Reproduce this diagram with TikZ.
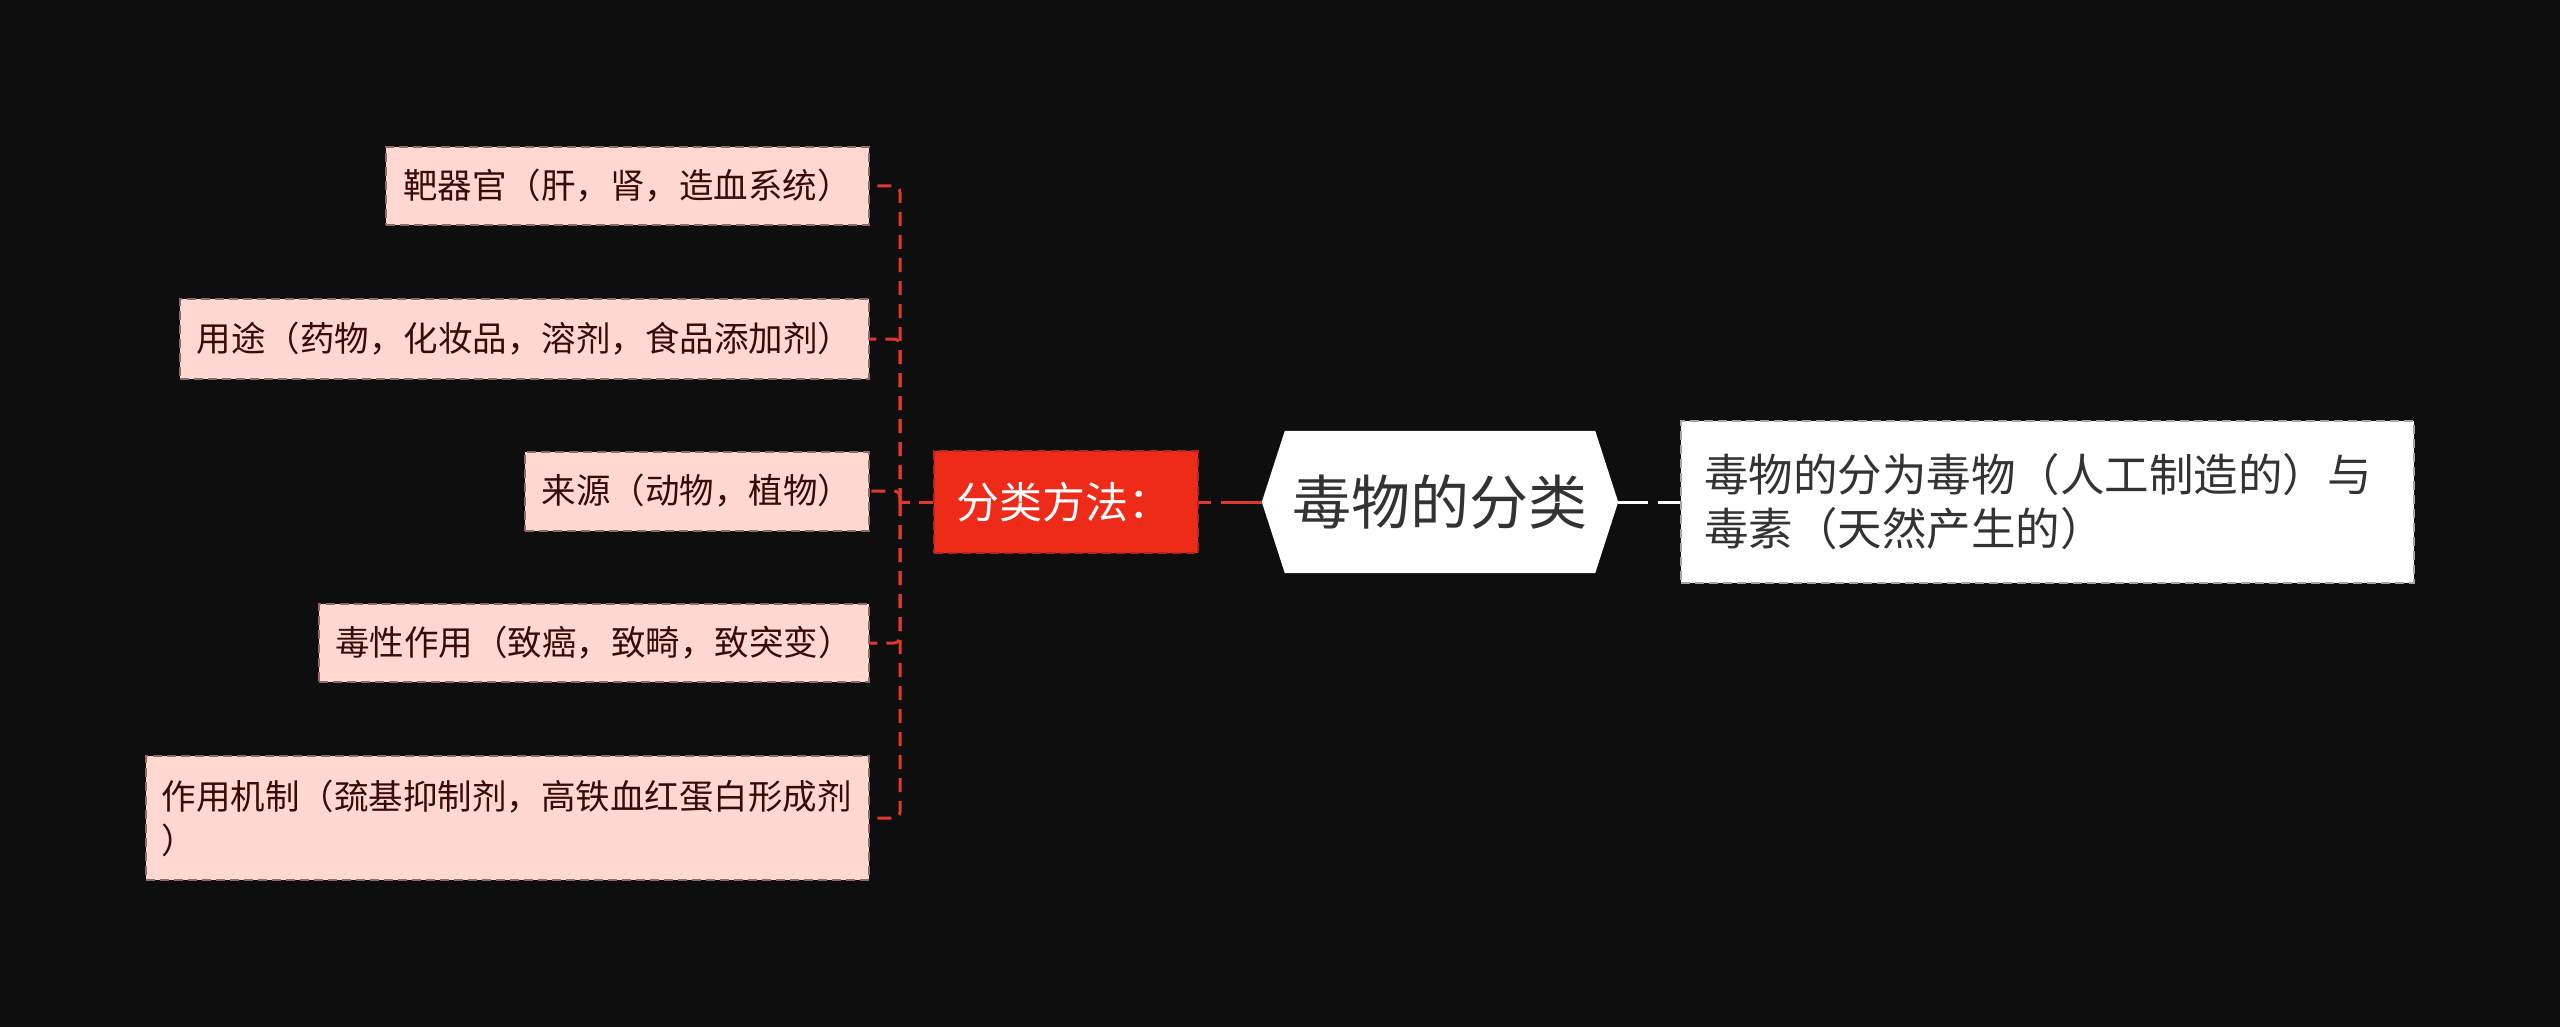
\documentclass[tikz,border=0pt]{standalone}
\usepackage{fontspec}
\newfontfamily\cjk{Noto Sans CJK SC}
\usetikzlibrary{calc}
\definecolor{bg}{HTML}{0E0E0E}
\definecolor{leaffill}{HTML}{FFD8D2}
\definecolor{leafline}{HTML}{8E6A66}
\definecolor{leaftext}{HTML}{3A0A0A}
\definecolor{redfill}{HTML}{EE2A18}
\definecolor{redline}{HTML}{B4261A}
\definecolor{conred}{HTML}{E0392B}
\definecolor{darktext}{HTML}{333333}
\tikzset{
  leafbox/.style={draw=leafline, dashed, dash pattern=on 9pt off 5pt, line width=2pt, fill=leaffill,
    text=leaftext, anchor=east, inner sep=0pt, font=\cjk\fontsize{34.5}{44}\selectfont},
  redbox/.style={draw=redline, dashed, dash pattern=on 9pt off 5pt, line width=2pt, fill=redfill,
    text=white, inner sep=0pt, minimum width=264pt, minimum height=102pt, font=\cjk\fontsize{43}{50}\selectfont},
  rightbox/.style={draw=gray!70, dashed, dash pattern=on 9pt off 5pt, line width=2pt, fill=white,
    text=darktext, inner sep=0pt, minimum width=733pt, minimum height=162pt, font=\cjk\fontsize{44.5}{54}\selectfont},
  conn/.style={draw=conred, line width=3pt, dash pattern=on 14pt off 9pt, rounded corners=6pt},
  wconn/.style={draw=white, line width=3pt, dash pattern=on 30pt off 10pt},
}
\begin{document}
\begin{tikzpicture}[x=1pt,y=-1pt]
\fill[bg] (0,0) rectangle (2560,1027);
\useasboundingbox (0,0) rectangle (2560,1027);

% central hexagon
\node[inner sep=0pt, minimum width=310pt, minimum height=142pt] (root) at (1440,502) {};
\fill[white] (root.north west) -- (root.north east) -- ($(root.east)+(23,0)$) -- (root.south east)
  -- (root.south west) -- ($(root.west)+(-23,0)$) -- cycle;
\node[inner sep=0pt, text=darktext, font=\cjk\fontsize{59}{66}\selectfont] (rootlabel) at (root.center) {毒物的分类};
\coordinate (rootW) at ($(root.west)+(-23,0)$);
\coordinate (rootE) at ($(root.east)+(23,0)$);

% right node
\node[rightbox, anchor=west, align=left, text width=687pt] (desc) at (1680,502)
  {毒物的分为毒物（人工制造的）与\\毒素（天然产生的）};

% red node
\node[redbox, align=left, text width=220pt] (method) at (1066,502) {分类方法：};

% leaves
\node[leafbox, minimum width=483pt, minimum height=78pt] (l1) at (870,186) {靶器官（肝，肾，造血系统）};
\node[leafbox, minimum width=689pt, minimum height=80pt] (l2) at (870,339) {用途（药物，化妆品，溶剂，食品添加剂）};
\node[leafbox, minimum width=344pt, minimum height=79pt] (l3) at (870,491) {来源（动物，植物）};
\node[leafbox, minimum width=550pt, minimum height=78pt] (l4) at (870,643) {毒性作用（致癌，致畸，致突变）};
\node[leafbox, minimum width=723pt, minimum height=124pt, align=left, text width=692pt] (l5) at (870,818)
  {作用机制（巯基抑制剂，高铁血红蛋白形成剂\\）};

% connectors
\coordinate (spine) at (900,502);
\draw[conn] (method.west) -- (spine);
\foreach \l in {l1,l2,l3,l4,l5}{
  \draw[conn] (spine) |- (\l.east);
}
\draw[conn, dash pattern=on 12pt off 10pt on 40pt off 0pt] (method.east) -- (rootW);
\draw[wconn] (rootE) -- (desc.west);
\end{tikzpicture}
\end{document}
